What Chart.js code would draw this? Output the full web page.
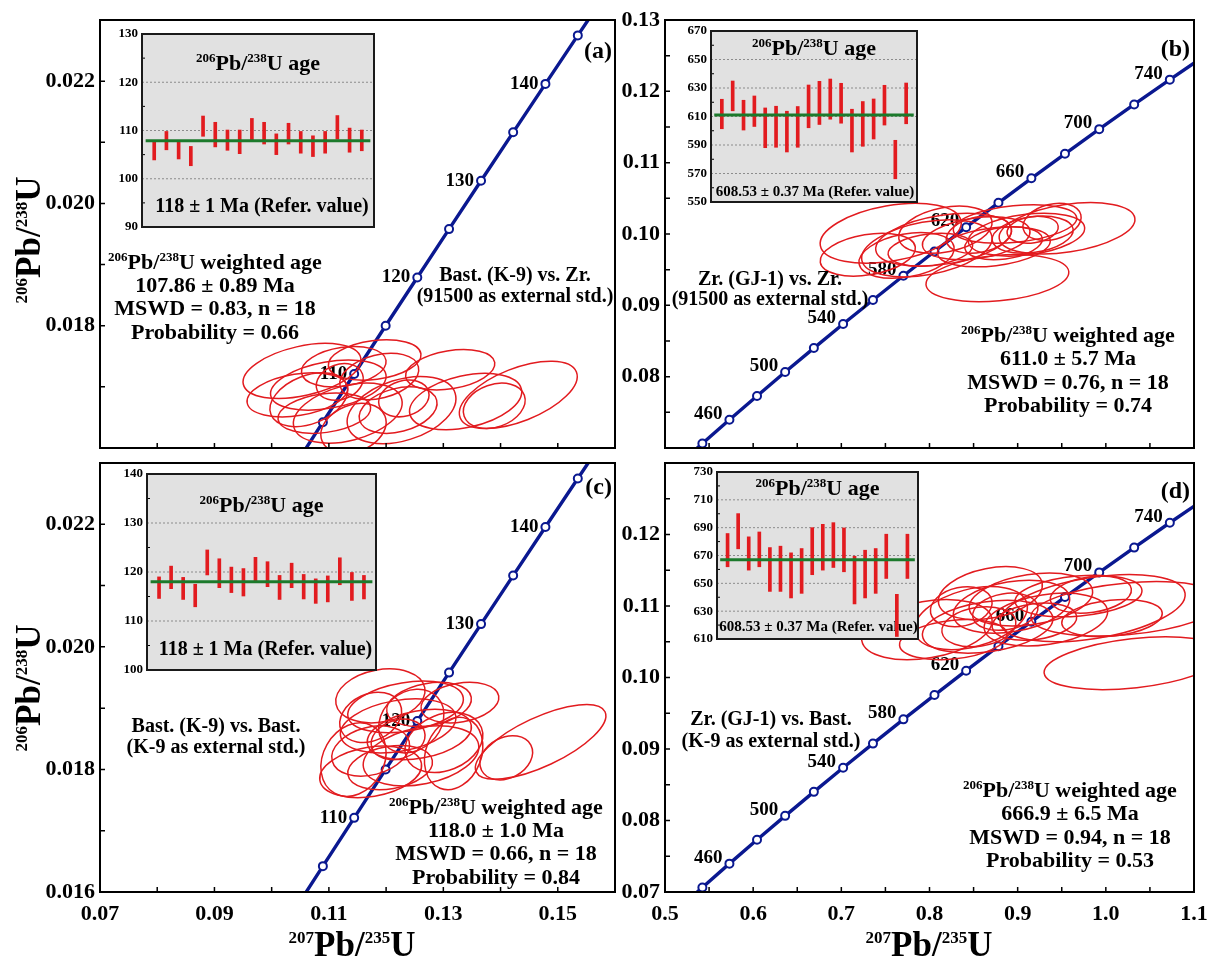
<!DOCTYPE html>
<html>
<head>
<meta charset="utf-8">
<script src="https://cdn.jsdelivr.net/npm/chart.js@4.4.1/dist/chart.umd.min.js"></script>
<style>
  html, body { margin: 0; padding: 0; background: #fff; }
  #wrap { position: relative; width: 1212px; height: 958px; overflow: hidden; background: #fff; }
  #wrap canvas { position: absolute; left: 0; top: 0; }
</style>
</head>
<body>
<div id="wrap"></div>
<script>
// concordia points (207Pb/235U, 206Pb/238U) at marked ages
const concAgesA = [100, 105, 110, 115, 120, 125, 130, 135, 140, 145, 150];
const concXA = [0.10350, 0.10895, 0.11442, 0.11992, 0.12545, 0.13100, 0.13659, 0.14220, 0.14784, 0.15350, 0.15920];
const concYA = [0.015633, 0.016422, 0.017210, 0.018000, 0.018789, 0.019580, 0.020371, 0.021163, 0.021955, 0.022748, 0.023542];
const ageLabelsA = [110, 120, 130, 140];

const concAgesB = [420, 440, 460, 480, 500, 520, 540, 560, 580, 600, 620, 640, 660, 680, 700, 720, 740, 760];
const concXB = [0.51231, 0.54239, 0.57307, 0.60437, 0.63628, 0.66883, 0.70203, 0.73588, 0.77041, 0.80563, 0.84155, 0.87818, 0.91554, 0.95365, 0.99251, 1.03215, 1.07257, 1.11380];
const concYB = [0.067322, 0.070638, 0.073965, 0.077302, 0.080650, 0.084008, 0.087376, 0.090755, 0.094144, 0.097544, 0.100955, 0.104376, 0.107807, 0.111249, 0.114702, 0.118166, 0.121641, 0.125126];
const ageLabelsB = [460, 500, 540, 580, 620, 660, 700, 740];

// error ellipses: centre, 2s half-extent, rho
const ellAx   = [0.1053, 0.1045, 0.1099, 0.1133, 0.1119, 0.1180, 0.1188, 0.1227, 0.1143, 0.1312, 0.1339, 0.1431, 0.1389, 0.1092, 0.1221, 0.1126, 0.1065, 0.1231];
const ellAsx  = [0.0103, 0.0088, 0.0101, 0.0095, 0.0041, 0.0081, 0.0069, 0.0095, 0.0057, 0.0078, 0.0098, 0.0103, 0.0054, 0.0081, 0.0068, 0.0074, 0.0068, 0.0044];
const ellAy   = [0.01726, 0.01687, 0.01703, 0.01657, 0.01708, 0.01744, 0.01717, 0.01662, 0.01632, 0.01728, 0.01676, 0.01687, 0.01669, 0.01657, 0.01662, 0.01733, 0.01679, 0.01681];
const ellAsy  = [0.00045, 0.00036, 0.00041, 0.00049, 0.00030, 0.00033, 0.00038, 0.00055, 0.00041, 0.00033, 0.00046, 0.00055, 0.00037, 0.00033, 0.00038, 0.00033, 0.00044, 0.00030];
const ellArho = [0.4, 0.3, 0.35, 0.35, 0.2, 0.25, 0.3, 0.35, 0.25, 0.3, 0.35, 0.55, 0.25, 0.25, 0.3, 0.25, 0.35, 0.2];

const ellBx   = [0.756, 0.730, 0.774, 0.877, 0.956, 0.816, 0.853, 0.897, 0.910, 0.873, 0.917, 0.884, 0.797, 0.917, 0.856, 0.801, 0.939, 0.818];
const ellBsx  = [0.080, 0.054, 0.054, 0.081, 0.077, 0.077, 0.061, 0.070, 0.066, 0.064, 0.046, 0.044, 0.074, 0.029, 0.037, 0.048, 0.033, 0.053];
const ellBy   = [0.1001, 0.0971, 0.0970, 0.0938, 0.1008, 0.0992, 0.0994, 0.1014, 0.0999, 0.0982, 0.0999, 0.0987, 0.0980, 0.1006, 0.0999, 0.0978, 0.1017, 0.1006];
const ellBsy  = [0.0042, 0.0030, 0.0032, 0.0033, 0.0036, 0.0037, 0.0030, 0.0027, 0.0030, 0.0028, 0.0026, 0.0023, 0.0040, 0.0019, 0.0026, 0.0023, 0.0026, 0.0033];
const ellBrho = [0.35, 0.3, 0.3, 0.25, 0.35, 0.35, 0.3, 0.3, 0.3, 0.3, 0.25, 0.25, 0.35, 0.2, 0.25, 0.25, 0.25, 0.3];

const ellCx   = [0.1190, 0.1143, 0.1173, 0.1470, 0.1410, 0.1329, 0.1318, 0.1234, 0.1221, 0.1258, 0.1173, 0.1244, 0.1261, 0.1275, 0.1207, 0.1221, 0.1301, 0.1173];
const ellCsx  = [0.0078, 0.0057, 0.0089, 0.0114, 0.0046, 0.0068, 0.0051, 0.0101, 0.0101, 0.0091, 0.0068, 0.0057, 0.0101, 0.0074, 0.0074, 0.0047, 0.0068, 0.0054];
const ellCy   = [0.01920, 0.01816, 0.01796, 0.01845, 0.01819, 0.01909, 0.01826, 0.01902, 0.01871, 0.01857, 0.01830, 0.01879, 0.01822, 0.01906, 0.01803, 0.01849, 0.01844, 0.01885];
const ellCsy  = [0.00044, 0.00060, 0.00042, 0.00061, 0.00036, 0.00033, 0.00059, 0.00042, 0.00044, 0.00041, 0.00041, 0.00052, 0.00049, 0.00036, 0.00036, 0.00033, 0.00049, 0.00041];
const ellCrho = [0.2, 0.2, 0.25, 0.7, 0.25, 0.25, 0.2, 0.3, 0.3, 0.3, 0.25, 0.2, 0.3, 0.25, 0.25, 0.2, 0.25, 0.25];

const ellDx   = [1.032, 0.985, 1.024, 0.797, 0.847, 0.869, 0.915, 0.932, 0.866, 0.893, 0.969, 0.886, 0.856, 0.827, 0.919, 0.983, 0.836, 1.007];
const ellDsx  = [0.102, 0.105, 0.109, 0.074, 0.064, 0.059, 0.070, 0.070, 0.074, 0.066, 0.072, 0.037, 0.042, 0.061, 0.048, 0.046, 0.035, 0.057];
const ellDy   = [0.1020, 0.1097, 0.1096, 0.1067, 0.1083, 0.1118, 0.1109, 0.1081, 0.1071, 0.1099, 0.1114, 0.1092, 0.1071, 0.1053, 0.1078, 0.1116, 0.1099, 0.1083];
const ellDsy  = [0.0037, 0.0047, 0.0038, 0.0042, 0.0044, 0.0037, 0.0037, 0.0037, 0.0037, 0.0037, 0.0029, 0.0026, 0.0028, 0.0028, 0.0026, 0.0026, 0.0028, 0.0026];
const ellDrho = [0.35, 0.4, 0.3, 0.3, 0.35, 0.3, 0.3, 0.3, 0.3, 0.3, 0.25, 0.2, 0.2, 0.25, 0.25, 0.25, 0.2, 0.25];

// inset 206Pb/238U ages (Ma), 2s ranges
const barLoA = [103.9, 106.0, 104.1, 102.7, 108.8, 106.6, 105.9, 105.2, 108.1, 107.2, 105.0, 107.2, 105.3, 104.6, 105.3, 108.2, 105.5, 105.8];
const barHiA = [107.7, 109.8, 107.7, 106.7, 113.0, 111.7, 110.1, 110.1, 112.5, 111.7, 109.3, 111.5, 109.8, 108.9, 109.8, 113.1, 110.5, 110.1];
const barLoB = [601.4, 614.0, 600.5, 603.0, 588.1, 588.4, 585.1, 588.4, 602.1, 604.4, 608.1, 605.3, 585.1, 589.1, 594.2, 604.0, 566.3, 604.9];
const barHiB = [622.1, 634.9, 621.4, 624.4, 616.0, 617.2, 613.7, 617.0, 632.1, 634.7, 636.3, 633.3, 615.1, 620.5, 622.3, 631.9, 593.3, 633.5];
const barLoC = [114.6, 116.6, 114.4, 112.9, 119.4, 116.8, 115.8, 115.1, 117.9, 117.0, 114.4, 116.8, 114.5, 113.6, 113.9, 117.4, 114.2, 114.5];
const barHiC = [119.0, 121.2, 118.9, 117.5, 124.5, 122.7, 121.0, 120.7, 123.0, 122.1, 119.3, 121.8, 119.5, 118.6, 119.2, 122.9, 119.9, 119.3];
const barLoD = [661.9, 674.8, 659.5, 661.9, 644.2, 644.2, 639.5, 642.8, 656.2, 659.5, 661.4, 658.3, 635.2, 639.5, 642.8, 653.5, 611.8, 653.5];
const barHiD = [685.8, 700.1, 683.4, 686.9, 675.7, 676.7, 671.9, 675.0, 690.0, 692.4, 693.6, 689.8, 669.5, 673.8, 675.0, 685.3, 642.1, 685.3];
const meanAges = [107.86, 611.0, 118.0, 666.9];

const W = 1212, H = 958;
const SERIF = '"Liberation Serif", "Times New Roman", serif';
const BLUE = '#0a1890';
const RED = '#e21b1f';
const GREEN = '#1c7a2c';
const wrap = document.getElementById('wrap');

const font = s => 'bold ' + s + 'px ' + SERIF;

function addCanvas() {
  const c = document.createElement('canvas');
  c.width = W; c.height = H;
  c.style.width = W + 'px'; c.style.height = H + 'px';
  wrap.appendChild(c);
  return c;
}

// text with superscript pieces, y = baseline
function drawRich(ctx, parts, x, y, size, sup, align) {
  let w = 0;
  parts.forEach(pt => { ctx.font = font(pt.s ? sup : size); w += ctx.measureText(pt.t).width; });
  let cx = align === 'center' ? x - w / 2 : (align === 'right' ? x - w : x);
  ctx.textAlign = 'left';
  ctx.textBaseline = 'alphabetic';
  parts.forEach(pt => {
    ctx.font = font(pt.s ? sup : size);
    ctx.fillText(pt.t, cx, pt.s ? y - size * 0.36 : y);
    cx += ctx.measureText(pt.t).width;
  });
}
const plain = t => [{ t }];
const ratio = (a, b, tail) => [{ t: a, s: 1 }, { t: 'Pb/' }, { t: b, s: 1 }, { t: 'U' + (tail || '') }];

function zeroPad(s) { s.paddingLeft = 0; s.paddingRight = 0; s.paddingTop = 0; s.paddingBottom = 0; }

function panelPlugin(p) {
  return {
    id: 'panel' + p.tag,
    afterDraw(chart) {
      const ctx = chart.ctx, a = chart.chartArea, xs = chart.scales.x, ys = chart.scales.y;
      ctx.save();
      ctx.fillStyle = '#000';
      // age labels next to concordia markers
      ctx.font = font(19);
      ctx.textAlign = 'right';
      ctx.textBaseline = 'middle';
      p.labelAges.forEach(age => {
        const i = p.ages.indexOf(age);
        ctx.fillText(String(age), xs.getPixelForValue(p.cx[i]) - 7, ys.getPixelForValue(p.cy[i]) + p.labelDy);
      });
      // error ellipses
      ctx.save();
      ctx.beginPath();
      ctx.rect(a.left, a.top, a.right - a.left, a.bottom - a.top);
      ctx.clip();
      ctx.strokeStyle = RED;
      ctx.lineWidth = 1.5;
      const e = p.ell;
      e.x.forEach((vx, i) => {
        const cx = xs.getPixelForValue(vx), cy = ys.getPixelForValue(e.y[i]);
        const ax = Math.abs(xs.getPixelForValue(vx + e.sx[i]) - cx);
        const ay = Math.abs(ys.getPixelForValue(e.y[i] + e.sy[i]) - cy);
        const sxx = ax * ax, syy = ay * ay, sxy = -e.rho[i] * ax * ay;
        const th = 0.5 * Math.atan2(2 * sxy, sxx - syy);
        const m = (sxx + syy) / 2, d = Math.sqrt(((sxx - syy) / 2) ** 2 + sxy * sxy);
        ctx.beginPath();
        ctx.ellipse(cx, cy, Math.sqrt(m + d), Math.sqrt(Math.max(m - d, 0.5)), th, 0, Math.PI * 2);
        ctx.stroke();
      });
      ctx.restore();
      // frame and inward ticks
      ctx.strokeStyle = '#000';
      ctx.lineWidth = 2;
      ctx.strokeRect(a.left, a.top, a.right - a.left, a.bottom - a.top);
      ctx.lineWidth = 1.5;
      ctx.beginPath();
      xs.ticks.forEach(t => {
        const px = xs.getPixelForValue(t.value);
        ctx.moveTo(px, a.bottom); ctx.lineTo(px, a.bottom - 5);
      });
      ys.ticks.forEach(t => {
        const py = ys.getPixelForValue(t.value);
        ctx.moveTo(a.left, py); ctx.lineTo(a.left + 5, py);
      });
      ctx.stroke();
      // panel tag
      ctx.fillStyle = '#000';
      ctx.font = font(24);
      ctx.textAlign = 'right';
      ctx.textBaseline = 'middle';
      ctx.fillText(p.tagText, p.tagPos[0], p.tagPos[1]);
      // comparison note
      p.note.lines.forEach((ln, i) => drawRich(ctx, plain(ln), p.note.x, p.note.y[i] + 7, 20, 12, 'center'));
      // weighted age block
      drawRich(ctx, ratio('206', '238', ' weighted age'), p.stats.x, p.stats.y[0] + 7, 22, 13, 'center');
      p.stats.lines.forEach((ln, i) => drawRich(ctx, plain(ln), p.stats.x, p.stats.y[i + 1] + 7, 22, 13, 'center'));
      // axis titles
      if (p.yTitle) {
        ctx.save();
        ctx.translate(p.yTitle[0], p.yTitle[1]);
        ctx.rotate(-Math.PI / 2);
        drawRich(ctx, ratio('206', '238'), 0, 0, 35, 17, 'center');
        ctx.restore();
      }
      if (p.xTitle) drawRich(ctx, ratio('207', '235'), p.xTitle[0], p.xTitle[1], 35, 17, 'center');
      ctx.restore();
    }
  };
}

function mainPanel(p) {
  const YW = 80, XH = 40;
  const pts = p.ages.map((a, i) => ({ x: p.cx[i], y: p.cy[i] }));
  const radii = p.ages.map((a, i) => (i === 0 || i === p.ages.length - 1) ? 0 : 4);
  const tickFont = { family: SERIF, size: 22, weight: 'bold' };
  new Chart(addCanvas(), {
    type: 'scatter',
    data: {
      datasets: [{
        data: pts, showLine: true, borderColor: BLUE, borderWidth: 3.4,
        pointRadius: radii, pointBackgroundColor: '#fff', pointBorderColor: BLUE,
        pointBorderWidth: 2, clip: 0
      }]
    },
    options: {
      responsive: false, animation: false, events: [],
      layout: { padding: { left: p.area.l - YW, top: p.area.t, right: W - p.area.r, bottom: H - p.area.b - XH } },
      plugins: { legend: { display: false }, tooltip: { enabled: false } },
      scales: {
        x: {
          type: 'linear', min: p.xMin, max: p.xMax,
          grid: { display: false, drawTicks: false }, border: { display: false },
          ticks: { stepSize: p.xStep, autoSkip: false, maxRotation: 0, padding: 9, color: '#000', font: tickFont, callback: p.xLabel },
          afterFit: s => { s.height = XH; zeroPad(s); }
        },
        y: {
          type: 'linear', min: p.yMin, max: p.yMax,
          grid: { display: false, drawTicks: false }, border: { display: false },
          ticks: { stepSize: p.yStep, autoSkip: false, padding: 5, color: '#000', font: tickFont, callback: p.yLabel },
          afterFit: s => { s.width = YW; zeroPad(s); }
        }
      }
    },
    plugins: [panelPlugin(p)]
  });
}

function insetPlugin(q) {
  return {
    id: 'inset' + q.tag,
    beforeDraw(chart) {
      const ctx = chart.ctx, a = chart.chartArea;
      ctx.save();
      ctx.fillStyle = '#e1e1e1';
      ctx.fillRect(a.left, a.top, a.right - a.left, a.bottom - a.top);
      ctx.restore();
    },
    beforeDatasetsDraw(chart) {
      const ctx = chart.ctx, a = chart.chartArea, ys = chart.scales.y;
      ctx.save();
      ys.ticks.forEach(t => {
        const py = ys.getPixelForValue(t.value);
        const major = (t.value - q.yMin) % q.labelStep === 0;
        if (major && t.value > q.yMin && t.value < q.yMax) {
          ctx.strokeStyle = '#8c8c8c';
          ctx.lineWidth = 1;
          ctx.setLineDash([2, 2]);
          ctx.beginPath(); ctx.moveTo(a.left, py); ctx.lineTo(a.right, py); ctx.stroke();
        } else if (!major) {
          ctx.strokeStyle = '#000';
          ctx.lineWidth = 1;
          ctx.setLineDash([]);
          ctx.beginPath(); ctx.moveTo(a.left, py); ctx.lineTo(a.left + 3, py); ctx.stroke();
        }
      });
      ctx.setLineDash([]);
      ctx.fillStyle = '#000';
      const mid = (a.left + a.right) / 2;
      drawRich(ctx, ratio('206', '238', ' age'), mid, q.titleY + 7, 22, 13, 'center');
      drawRich(ctx, plain(q.ref), mid + q.refDx, q.refY + q.refSize * 0.33, q.refSize, 10, 'center');
      ctx.restore();
    },
    afterDraw(chart) {
      const ctx = chart.ctx, a = chart.chartArea;
      ctx.save();
      ctx.strokeStyle = '#1a1a1a';
      ctx.lineWidth = 2;
      ctx.strokeRect(a.left, a.top, a.right - a.left, a.bottom - a.top);
      ctx.restore();
    }
  };
}

function inset(q) {
  const YW = 30;
  new Chart(addCanvas(), {
    type: 'bar',
    data: {
      datasets: [
        { type: 'line', data: [{ x: 0.3, y: q.mean }, { x: 18.7, y: q.mean }], borderColor: GREEN, borderWidth: 3, pointRadius: 0, order: 0 },
        { type: 'bar', data: q.lo.map((v, i) => ({ x: i + 1, y: [v, q.hi[i]] })), backgroundColor: RED, barThickness: 3, order: 1 }
      ]
    },
    options: {
      responsive: false, animation: false, events: [],
      layout: { padding: { left: q.box.l - YW, top: q.box.t, right: W - q.box.r, bottom: H - q.box.b } },
      plugins: { legend: { display: false }, tooltip: { enabled: false } },
      scales: {
        x: { type: 'linear', min: 0, max: 19, offset: false, display: false },
        y: {
          type: 'linear', min: q.yMin, max: q.yMax,
          grid: { display: false, drawTicks: false }, border: { display: false },
          ticks: {
            stepSize: q.labelStep / 2, autoSkip: false, padding: 4, color: '#000',
            font: { family: SERIF, size: 13, weight: 'bold' },
            callback: v => ((v - q.yMin) % q.labelStep === 0 ? String(v) : '')
          },
          afterFit: s => { s.width = YW; zeroPad(s); }
        }
      }
    },
    plugins: [insetPlugin(q)]
  });
}

const ellA = { x: ellAx, sx: ellAsx, y: ellAy, sy: ellAsy, rho: ellArho };
const ellB = { x: ellBx, sx: ellBsx, y: ellBy, sy: ellBsy, rho: ellBrho };
const ellC = { x: ellCx, sx: ellCsx, y: ellCy, sy: ellCsy, rho: ellCrho };
const ellD = { x: ellDx, sx: ellDsx, y: ellDy, sy: ellDsy, rho: ellDrho };

const k3 = v => Math.round(v * 1000);
const k2 = v => Math.round(v * 100);

mainPanel({
  tag: 'a', tagText: '(a)', tagPos: [612, 52],
  area: { l: 100, t: 20, r: 615, b: 448 },
  xMin: 0.07, xMax: 0.16, xStep: 0.01, xLabel: () => '',
  yMin: 0.016, yMax: 0.023, yStep: 0.001,
  yLabel: v => (k3(v) % 2 === 0 && k3(v) >= 18 && k3(v) <= 22) ? v.toFixed(3) : '',
  ages: concAgesA, cx: concXA, cy: concYA, labelAges: ageLabelsA, labelDy: 0, ell: ellA,
  note: { x: 515, y: [274, 295], lines: ['Bast. (K-9) vs. Zr.', '(91500 as external std.)'] },
  stats: { x: 215, y: [262, 285, 308, 332], lines: ['107.86 \u00b1 0.89 Ma', 'MSWD = 0.83, n = 18', 'Probability = 0.66'] },
  yTitle: [40, 240]
});

mainPanel({
  tag: 'b', tagText: '(b)', tagPos: [1190, 50],
  area: { l: 665, t: 20, r: 1194, b: 448 },
  xMin: 0.5, xMax: 1.1, xStep: 0.05, xLabel: () => '',
  yMin: 0.07, yMax: 0.13, yStep: 0.005,
  yLabel: v => (k3(v) % 10 === 0 && k3(v) >= 80) ? v.toFixed(2) : '',
  ages: concAgesB, cx: concXB, cy: concYB, labelAges: ageLabelsB, labelDy: -6, ell: ellB,
  note: { x: 770, y: [278, 298], lines: ['Zr. (GJ-1) vs. Zr.', '(91500 as external std.)'] },
  stats: { x: 1068, y: [335, 358, 382, 405], lines: ['611.0 \u00b1 5.7 Ma', 'MSWD = 0.76, n = 18', 'Probability = 0.74'] }
});

mainPanel({
  tag: 'c', tagText: '(c)', tagPos: [612, 488],
  area: { l: 100, t: 463, r: 615, b: 892 },
  xMin: 0.07, xMax: 0.16, xStep: 0.01,
  xLabel: v => (k2(v) % 2 === 1) ? v.toFixed(2) : '',
  yMin: 0.016, yMax: 0.023, yStep: 0.001,
  yLabel: v => (k3(v) % 2 === 0 && k3(v) <= 22) ? v.toFixed(3) : '',
  ages: concAgesA, cx: concXA, cy: concYA, labelAges: ageLabelsA, labelDy: 0, ell: ellC,
  note: { x: 216, y: [725, 746], lines: ['Bast. (K-9) vs. Bast.', '(K-9 as external std.)'] },
  stats: { x: 496, y: [807, 830, 853, 877], lines: ['118.0 \u00b1 1.0 Ma', 'MSWD = 0.66, n = 18', 'Probability = 0.84'] },
  yTitle: [40, 688], xTitle: [352, 956]
});

mainPanel({
  tag: 'd', tagText: '(d)', tagPos: [1190, 492],
  area: { l: 665, t: 463, r: 1194, b: 892 },
  xMin: 0.5, xMax: 1.1, xStep: 0.05,
  xLabel: v => (k2(v) % 10 === 0) ? v.toFixed(1) : '',
  yMin: 0.07, yMax: 0.13, yStep: 0.005,
  yLabel: v => (k3(v) % 10 === 0 && k3(v) <= 120) ? v.toFixed(2) : '',
  ages: concAgesB, cx: concXB, cy: concYB, labelAges: ageLabelsB, labelDy: -6, ell: ellD,
  note: { x: 771, y: [718, 740], lines: ['Zr. (GJ-1) vs. Bast.', '(K-9 as external std.)'] },
  stats: { x: 1070, y: [790, 813, 837, 860], lines: ['666.9 \u00b1 6.5 Ma', 'MSWD = 0.94, n = 18', 'Probability = 0.53'] },
  xTitle: [929, 956]
});

inset({ tag: 'a', box: { l: 142, t: 34, r: 374, b: 227 }, yMin: 90, yMax: 130, labelStep: 10,
  lo: barLoA, hi: barHiA, mean: meanAges[0], titleY: 63, ref: '118 \u00b1 1 Ma (Refer. value)', refY: 205, refSize: 20, refDx: 4 });
inset({ tag: 'b', box: { l: 711, t: 31, r: 917, b: 202 }, yMin: 550, yMax: 670, labelStep: 20,
  lo: barLoB, hi: barHiB, mean: meanAges[1], titleY: 48, ref: '608.53 \u00b1 0.37 Ma (Refer. value)', refY: 191, refSize: 15, refDx: 1 });
inset({ tag: 'c', box: { l: 147, t: 474, r: 376, b: 670 }, yMin: 100, yMax: 140, labelStep: 10,
  lo: barLoC, hi: barHiC, mean: meanAges[2], titleY: 505, ref: '118 \u00b1 1 Ma (Refer. value)', refY: 648, refSize: 20, refDx: 4 });
inset({ tag: 'd', box: { l: 717, t: 472, r: 918, b: 639 }, yMin: 610, yMax: 730, labelStep: 20,
  lo: barLoD, hi: barHiD, mean: meanAges[3], titleY: 488, ref: '608.53 \u00b1 0.37 Ma (Refer. value)', refY: 626, refSize: 15, refDx: 1 });
</script>
</body>
</html>
